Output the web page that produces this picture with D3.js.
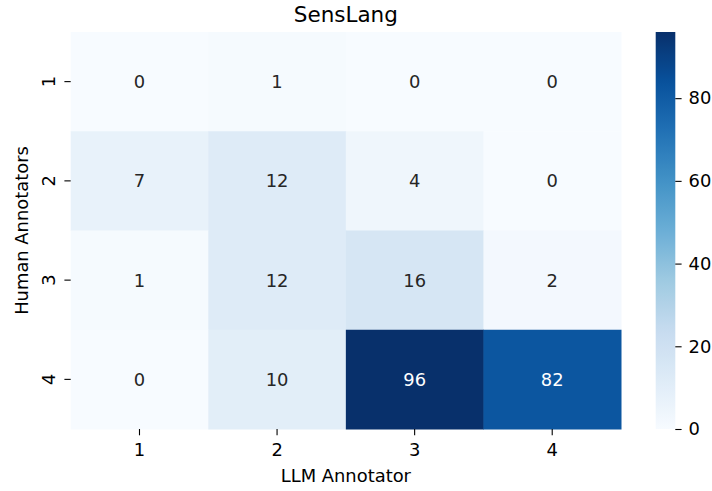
<!DOCTYPE html>
<html>
<head>
<meta charset="utf-8">
<script src="https://cdn.jsdelivr.net/npm/d3@7"></script>
<style>
  html, body { margin: 0; padding: 0; background: #fff; }
  svg text { font-family: "DejaVu Sans", sans-serif; }
</style>
</head>
<body>
<svg id="chart" width="712" height="491"></svg>
<script>
const title = "SensLang";
const xCategories = ["1", "2", "3", "4"];
const yCategories = ["1", "2", "3", "4"];
const xLabel = "LLM Annotator";
const yLabel = "Human Annotators";
const matrix = [
  [0, 1, 0, 0],
  [7, 12, 4, 0],
  [1, 12, 16, 2],
  [0, 10, 96, 82]
];
const colorbarTicks = [0, 20, 40, 60, 80];
const vmin = 0, vmax = 96;
const bluesStops = ["#f7fbff", "#deebf7", "#c6dbef", "#9ecae1", "#6baed6", "#4292c6", "#2171b5", "#08519c", "#08306b"];

const FS = "17.9px";
const svg = d3.select("#chart");
const margin = { left: 70.7, top: 32, right: 621, bottom: 429 };

const x = d3.scaleBand().domain(xCategories).range([margin.left, margin.right]).padding(0);
const y = d3.scaleBand().domain(yCategories).range([margin.top, margin.bottom]).padding(0);

const blues = d3.scaleLinear()
  .domain(bluesStops.map((_, i) => i / (bluesStops.length - 1)))
  .range(bluesStops)
  .interpolate(d3.interpolateRgb)
  .clamp(true);
const color = v => blues((v - vmin) / (vmax - vmin));

const cells = [];
matrix.forEach((row, i) => row.forEach((v, j) => cells.push({ r: yCategories[i], c: xCategories[j], v })));

svg.append("g").selectAll("rect").data(cells).join("rect")
  .attr("x", d => x(d.c))
  .attr("y", d => y(d.r))
  .attr("width", x.bandwidth() + 0.5)
  .attr("height", y.bandwidth() + 0.5)
  .attr("fill", d => color(d.v));

function lum(c) {
  const rgb = d3.rgb(c);
  const f = u => { u /= 255; return u <= 0.03928 ? u / 12.92 : Math.pow((u + 0.055) / 1.055, 2.4); };
  return 0.2126 * f(rgb.r) + 0.7152 * f(rgb.g) + 0.0722 * f(rgb.b);
}

svg.append("g").selectAll("text").data(cells).join("text")
  .attr("x", d => x(d.c) + x.bandwidth() / 2)
  .attr("y", d => y(d.r) + y.bandwidth() / 2)
  .attr("text-anchor", "middle")
  .attr("dominant-baseline", "central")
  .attr("font-size", FS)
  .attr("fill", d => lum(color(d.v)) > 0.408 ? "#262626" : "#ffffff")
  .text(d => d.v);

// X axis
const xAxis = d3.axisBottom(x).tickSize(6.3).tickPadding(7.7);
const gx = svg.append("g").attr("transform", `translate(0,${margin.bottom})`).call(xAxis);
gx.select(".domain").remove();
gx.selectAll(".tick line").attr("stroke", "#000").attr("stroke-width", 1.1);
gx.selectAll(".tick text").attr("font-size", FS).attr("fill", "#000").attr("font-family", "DejaVu Sans");

// Y axis
const yAxis = d3.axisLeft(y).tickSize(6.3).tickPadding(4);
const gy = svg.append("g").attr("transform", `translate(${margin.left},0)`).call(yAxis);
gy.select(".domain").remove();
gy.selectAll(".tick line").attr("stroke", "#000").attr("stroke-width", 1.1);
gy.selectAll(".tick text")
  .attr("font-size", FS).attr("fill", "#000").attr("font-family", "DejaVu Sans")
  .attr("x", null).attr("dy", null)
  .attr("text-anchor", "middle")
  .attr("transform", "translate(-22,0) rotate(-90)")
  .attr("dominant-baseline", "central");

// Title
svg.append("text")
  .attr("x", (margin.left + margin.right) / 2)
  .attr("y", 22)
  .attr("text-anchor", "middle")
  .attr("font-size", "21.5px")
  .attr("fill", "#000")
  .text(title);

// Axis labels
svg.append("text")
  .attr("x", (margin.left + margin.right) / 2)
  .attr("y", 482)
  .attr("text-anchor", "middle")
  .attr("font-size", FS)
  .attr("fill", "#000")
  .text(xLabel);

svg.append("text")
  .attr("transform", `translate(28,${(margin.top + margin.bottom) / 2}) rotate(-90)`)
  .attr("text-anchor", "middle")
  .attr("font-size", FS)
  .attr("fill", "#000")
  .text(yLabel);

// Colorbar
const cbX = 655.7, cbW = 19.6;
const cbScale = d3.scaleLinear().domain([vmin, vmax]).range([margin.bottom, margin.top]);
const defs = svg.append("defs");
const grad = defs.append("linearGradient").attr("id", "cbgrad")
  .attr("x1", "0").attr("y1", "1").attr("x2", "0").attr("y2", "0");
d3.range(0, 1.0001, 0.02).forEach(t => {
  grad.append("stop").attr("offset", t).attr("stop-color", blues(t));
});
svg.append("rect")
  .attr("x", cbX).attr("y", margin.top)
  .attr("width", cbW).attr("height", margin.bottom - margin.top)
  .attr("fill", "url(#cbgrad)");

const cbAxis = d3.axisRight(cbScale).tickValues(colorbarTicks).tickSize(6.3).tickPadding(7);
const gcb = svg.append("g").attr("transform", `translate(${cbX + cbW},0)`).call(cbAxis);
gcb.select(".domain").remove();
gcb.selectAll(".tick line").attr("stroke", "#000").attr("stroke-width", 1.1);
gcb.selectAll(".tick text").attr("font-size", FS).attr("fill", "#000").attr("font-family", "DejaVu Sans");
</script>
</body>
</html>
